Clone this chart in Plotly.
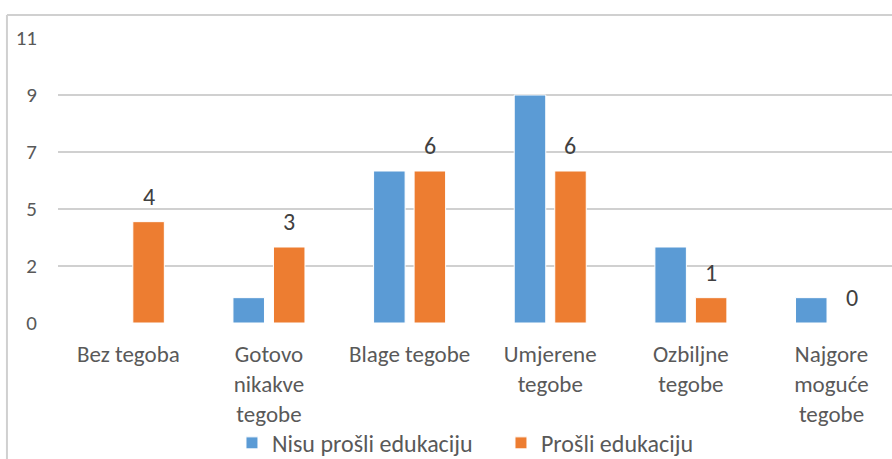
import plotly.graph_objects as go

categories = ["Bez tegoba", "Gotovo<br>nikakve<br>tegobe", "Blage tegobe", "Umjerene<br>tegobe",
              "Ozbiljne<br>tegobe", "Najgore<br>moguće<br>tegobe"]
nisu_prosli = [0, 1, 6, 9, 3, 1]
prosli = [4, 3, 6, 6, 1, 0]
series_names = ["Nisu prošli edukaciju", "Prošli edukaciju"]
y_tickvals = [0, 2.25, 4.5, 6.75, 9, 11.25]
y_ticktext = ["0", "2", "5", "7", "9", "11"]

FONT = "Carlito, Lato, sans-serif"
BLUE = "#5B9BD5"
ORANGE = "#ED7D31"
GRID = "#d0d0d0"

fig = go.Figure()
fig.add_trace(go.Bar(x=categories, y=nisu_prosli, name=series_names[0],
                     marker=dict(color=BLUE, line=dict(color="white", width=1))))
fig.add_trace(go.Bar(x=categories, y=prosli, name=series_names[1],
                     marker=dict(color=ORANGE, line=dict(color="white", width=1))))

for c, v in zip(categories, prosli):
    fig.add_annotation(x=c, y=v, text=str(v), showarrow=False, xshift=20.2, yshift=9,
                       yanchor="bottom", font=dict(family=FONT, size=24, color="#404040"))

# chart border (partially outside the visible area)
fig.add_shape(type="line", xref="paper", yref="paper", x0=-0.0612, y0=-0.7, x1=-0.0612, y1=1.0807,
              line=dict(color=GRID, width=2), layer="above")
fig.add_shape(type="line", xref="paper", yref="paper", x0=-0.0612, y0=1.0807, x1=1.2, y1=1.0807,
              line=dict(color=GRID, width=2), layer="above")

fig.update_layout(
    width=892, height=459,
    margin=dict(l=58, r=0, t=38, b=136, autoexpand=False),
    paper_bgcolor="white", plot_bgcolor="white",
    barmode="group", bargap=0.424, bargroupgap=0.222,
    font=dict(family=FONT, color="#595959", size=23),
    showlegend=True,
    legend=dict(orientation="h", x=0.2086, xanchor="left", y=-0.422, yanchor="middle",
                itemwidth=30, entrywidth=224, bgcolor="rgba(0,0,0,0)",
                font=dict(family=FONT, size=24, color="#595959")),
    xaxis=dict(range=[-0.5, 5.43], showgrid=False, zeroline=False, showline=False,
               tickfont=dict(family=FONT, size=23, color="#595959"), ticklabelstandoff=15),
    yaxis=dict(range=[0, 11.25], tickvals=y_tickvals, ticktext=y_ticktext,
               showgrid=True, gridcolor=GRID, gridwidth=2, zeroline=False, showline=False,
               tickfont=dict(family=FONT, size=21, color="#595959"), ticklabelstandoff=20),
)

fig.write_html("out.html", config={"displayModeBar": False},
               post_script="document.body.style.margin='0';document.body.style.overflow='hidden';")
